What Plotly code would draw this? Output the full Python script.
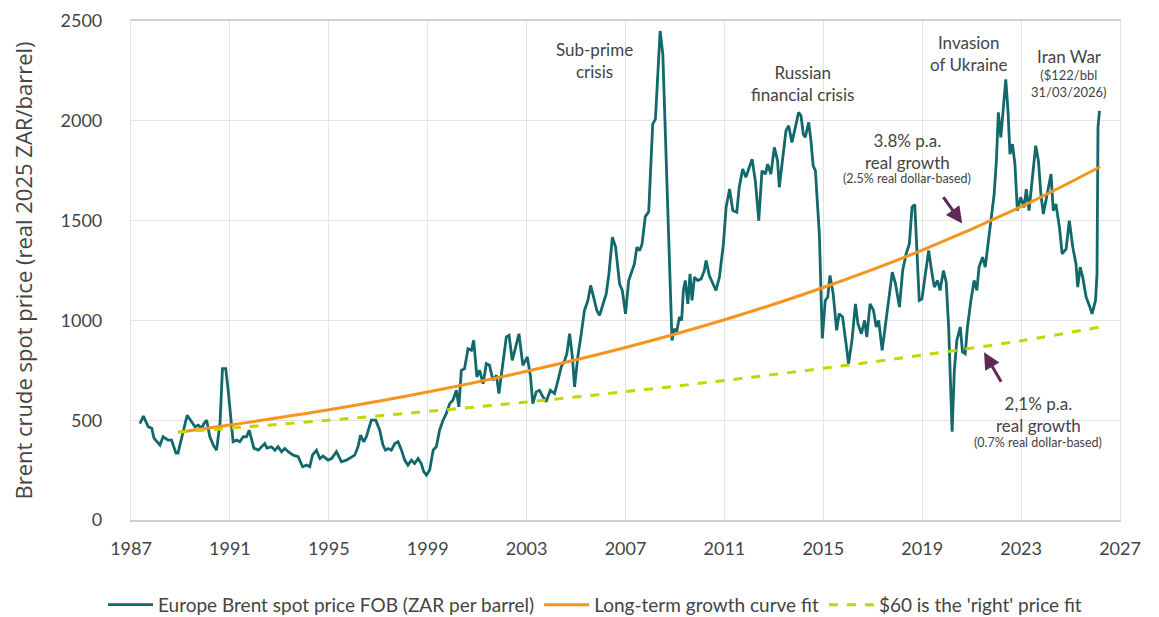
import plotly.graph_objects as go

# ---- Data ----
years = [
    1987.36, 1987.5, 1987.7, 1987.84, 1987.93, 1988.17, 1988.3, 1988.5, 1988.64, 1988.82, 1988.9,
    1989.09, 1989.27, 1989.45, 1989.59, 1989.72, 1989.86, 1989.95, 1990.06, 1990.19, 1990.33, 1990.46,
    1990.6, 1990.7, 1990.83, 1990.93, 1991.03, 1991.13, 1991.27, 1991.4, 1991.54, 1991.67, 1991.78,
    1991.88, 1991.97, 1992.15, 1992.28, 1992.41, 1992.5, 1992.68, 1992.82, 1992.95, 1993.09, 1993.22,
    1993.36, 1993.56, 1993.76, 1993.94, 1994.1, 1994.23, 1994.34, 1994.5, 1994.64, 1994.77, 1994.97,
    1995.11, 1995.31, 1995.51, 1995.71, 1995.92, 1996.05, 1996.18, 1996.28, 1996.41, 1996.52, 1996.72,
    1996.9, 1997.06, 1997.19, 1997.29, 1997.4, 1997.53, 1997.67, 1997.8, 1997.94, 1998.07, 1998.2,
    1998.34, 1998.47, 1998.61, 1998.74, 1998.84, 1998.95, 1999.08, 1999.22, 1999.35, 1999.48, 1999.62,
    1999.75, 1999.89, 2000.02, 2000.16, 2000.26, 2000.36, 2000.49, 2000.63, 2000.77, 2000.86, 2000.99,
    2001.1, 2001.24, 2001.37, 2001.5, 2001.64, 2001.78, 2001.88, 2002.02, 2002.18, 2002.29, 2002.42,
    2002.56, 2002.69, 2002.85, 2003.03, 2003.16, 2003.25, 2003.39, 2003.52, 2003.66, 2003.79, 2003.96,
    2004.13, 2004.27, 2004.4, 2004.54, 2004.63, 2004.74, 2004.85, 2004.94, 2005.07, 2005.21, 2005.34,
    2005.48, 2005.59, 2005.71, 2005.84, 2005.95, 2006.06, 2006.22, 2006.33, 2006.47, 2006.6, 2006.76,
    2006.87, 2007.0, 2007.13, 2007.27, 2007.36, 2007.46, 2007.57, 2007.67, 2007.8, 2007.94, 2008.1,
    2008.21, 2008.31, 2008.4, 2008.51, 2008.64, 2008.78, 2008.88, 2008.98, 2009.07, 2009.18, 2009.27,
    2009.34, 2009.42, 2009.52, 2009.61, 2009.69, 2009.79, 2009.92, 2010.06, 2010.19, 2010.26, 2010.39,
    2010.66, 2010.8, 2010.96, 2011.07, 2011.21, 2011.34, 2011.5, 2011.6, 2011.74, 2011.87, 2012.12,
    2012.25, 2012.39, 2012.52, 2012.66, 2012.75, 2012.88, 2013.02, 2013.15, 2013.22, 2013.35, 2013.49,
    2013.6, 2013.73, 2013.87, 2014.0, 2014.1, 2014.19, 2014.27, 2014.41, 2014.5, 2014.59, 2014.68,
    2014.84, 2014.96, 2015.08, 2015.18, 2015.27, 2015.4, 2015.54, 2015.64, 2015.78, 2015.92, 2016.02,
    2016.16, 2016.3, 2016.4, 2016.54, 2016.67, 2016.76, 2016.89, 2017.03, 2017.14, 2017.24, 2017.38,
    2017.52, 2017.65, 2017.79, 2017.92, 2018.08, 2018.21, 2018.35, 2018.48, 2018.59, 2018.7, 2018.77,
    2018.88, 2018.99, 2019.15, 2019.26, 2019.4, 2019.49, 2019.62, 2019.72, 2019.86, 2019.97, 2020.07,
    2020.17, 2020.21, 2020.3, 2020.4, 2020.54, 2020.63, 2020.74, 2020.83, 2020.97, 2021.1, 2021.21,
    2021.3, 2021.44, 2021.55, 2021.68, 2021.78, 2021.91, 2022.0, 2022.08, 2022.18, 2022.27, 2022.38,
    2022.47, 2022.55, 2022.65, 2022.75, 2022.85, 2022.98, 2023.12, 2023.21, 2023.32, 2023.46, 2023.59,
    2023.7, 2023.8, 2023.9, 2024.01, 2024.12, 2024.21, 2024.3, 2024.41, 2024.55, 2024.66, 2024.82,
    2024.95, 2025.09, 2025.22, 2025.29, 2025.39, 2025.49, 2025.63, 2025.76, 2025.87, 2026.01, 2026.07,
    2026.11, 2026.17,
]
brent_zar = [
    483, 520, 467, 460, 410, 375, 417, 400, 400, 335, 335,
    433, 525, 492, 467, 475, 460, 483, 500, 417, 375, 350,
    485, 758, 758, 650, 500, 392, 400, 392, 417, 417, 450,
    400, 360, 350, 367, 383, 360, 367, 350, 367, 342, 358,
    342, 325, 317, 267, 275, 267, 325, 350, 308, 320, 300,
    308, 342, 292, 300, 317, 325, 367, 425, 392, 417, 500,
    500, 450, 375, 350, 358, 350, 383, 392, 350, 300, 275,
    300, 283, 308, 283, 242, 225, 250, 350, 367, 450, 500,
    533, 583, 600, 650, 567, 750, 758, 858, 850, 900, 717,
    750, 683, 783, 775, 700, 725, 633, 767, 917, 925, 800,
    867, 933, 775, 817, 717, 583, 642, 650, 617, 592, 650,
    633, 700, 767, 800, 833, 933, 817, 667, 817, 933, 1050,
    1100, 1175, 1117, 1050, 1025, 1067, 1133, 1233, 1417, 1367, 1183,
    1150, 1033, 1200, 1250, 1283, 1367, 1350, 1383, 1520, 1545, 1983,
    2008, 2283, 2450, 2333, 1833, 1333, 900, 958, 942, 1017, 1000,
    1150, 1200, 1083, 1233, 1100, 1217, 1200, 1208, 1250, 1300, 1225,
    1150, 1217, 1383, 1567, 1658, 1550, 1542, 1667, 1758, 1717, 1808,
    1700, 1500, 1750, 1733, 1783, 1733, 1867, 1800, 1667, 1817, 1950,
    1975, 1892, 1967, 2042, 2025, 1933, 1917, 1992, 1900, 1775, 1750,
    1433, 910, 1100, 1117, 1225, 1133, 950, 1033, 1017, 883, 783,
    900, 1083, 983, 933, 1000, 917, 1083, 1050, 967, 1000, 850,
    983, 1117, 1242, 1183, 1067, 1250, 1333, 1383, 1567, 1580, 1367,
    1100, 1108, 1267, 1350, 1233, 1167, 1200, 1150, 1250, 1192, 967,
    633, 442, 750, 900, 967, 842, 833, 967, 1100, 1200, 1150,
    1267, 1317, 1267, 1400, 1500, 1633, 1800, 2042, 1917, 2050, 2208,
    2050, 1833, 1883, 1783, 1550, 1617, 1567, 1658, 1550, 1733, 1875,
    1800, 1633, 1533, 1600, 1667, 1733, 1550, 1583, 1467, 1333, 1358,
    1500, 1367, 1283, 1167, 1267, 1217, 1117, 1075, 1033, 1100, 1233,
    1967, 2050,
]

fit_years = [1988.9, 1991, 1995, 1999, 2003, 2007, 2011, 2015, 2019, 2023, 2026.2]
growth_fit = [440, 476, 552, 641, 745, 864, 1003, 1165, 1352, 1570, 1770]
right_price_fit = [440, 460, 500, 544, 591, 643, 699, 760, 826, 898, 967]

x_ticks = [1987, 1991, 1995, 1999, 2003, 2007, 2011, 2015, 2019, 2023, 2027]
y_ticks = [0, 500, 1000, 1500, 2000, 2500]

TEAL = "#12686a"
ORANGE = "#f7941d"
LIME = "#c4d600"
PURPLE = "#5c2a55"
TXT = "#444444"
FONT = "Lato"

fig = go.Figure()
fig.add_trace(go.Scatter(
    x=years, y=brent_zar, mode="lines", name="Europe Brent spot price FOB (ZAR per barrel)",
    line=dict(color=TEAL, width=2.8)))
fig.add_trace(go.Scatter(
    x=fit_years, y=growth_fit, mode="lines", name="Long-term growth curve fit",
    line=dict(color=ORANGE, width=3, shape="spline")))
fig.add_trace(go.Scatter(
    x=fit_years, y=right_price_fit, mode="lines", name="$60 is the 'right' price fit",
    line=dict(color=LIME, width=3, dash="dash", shape="spline")))

annos = []
def txt(x, y, text, size=17):
    annos.append(dict(x=x, y=y, xref="x", yref="y", text=text, showarrow=False,
                      font=dict(size=size, color=TXT, family=FONT), align="center"))

txt(2005.75, 2300, "Sub-prime<br>crisis")
txt(2014.15, 2185, "Russian<br>financial crisis")
txt(2020.86, 2335, "Invasion<br>of Ukraine")
txt(2024.94, 2320, "Iran War")
txt(2024.94, 2185, "($122/bbl<br>31/03/2026)", size=13)
txt(2018.4, 1845, "3.8% p.a.<br>real growth")
txt(2018.4, 1710, "(2.5% real dollar-based)", size=12.5)
txt(2023.7, 530, "2,1% p.a.<br>real growth")
txt(2023.7, 390, "(0.7% real dollar-based)", size=12.5)

annos.append(dict(x=2020.62, y=1485, xref="x", yref="y", ax=-20, ay=-28, text="",
                  showarrow=True, arrowhead=2, arrowsize=1.1, arrowwidth=3, arrowcolor=PURPLE))
annos.append(dict(x=2021.5, y=840, xref="x", yref="y", ax=18, ay=31, text="",
                  showarrow=True, arrowhead=2, arrowsize=1.1, arrowwidth=3, arrowcolor=PURPLE))

fig.update_layout(
    width=1151, height=609,
    margin=dict(l=123, r=39, t=13, b=97, autoexpand=False),
    paper_bgcolor="white", plot_bgcolor="white",
    font=dict(family=FONT, color=TXT),
    showlegend=True,
    legend=dict(orientation="h", xref="container", yref="container",
                x=0.51, xanchor="center", y=0.02, yanchor="middle",
                font=dict(size=19, color=TXT, family=FONT), itemwidth=45,
                traceorder="normal"),
    annotations=annos,
)
fig.update_xaxes(range=[1987, 2027], tickvals=x_ticks, ticktext=[str(t) for t in x_ticks],
                 showgrid=True, gridcolor="#e3e3e3", gridwidth=1.2,
                 showline=True, linecolor="#cfcfcf", linewidth=1.5, mirror=True,
                 ticks="", ticklabelstandoff=12,
                 tickfont=dict(size=18, color=TXT, family=FONT), zeroline=False)
fig.update_yaxes(range=[0, 2500], tickvals=y_ticks,
                 showgrid=True, gridcolor="#e3e3e3", gridwidth=1.2,
                 showline=True, linecolor="#e3e3e3", linewidth=1.2, mirror=True,
                 ticks="", ticklabelstandoff=24,
                 tickfont=dict(size=18, color=TXT, family=FONT), zeroline=False,
                 title=dict(text="Brent crude spot price (real 2025 ZAR/barrel)",
                            font=dict(size=22, color=TXT, family="Open Sans"), standoff=22))

fig.write_html("out.html")
